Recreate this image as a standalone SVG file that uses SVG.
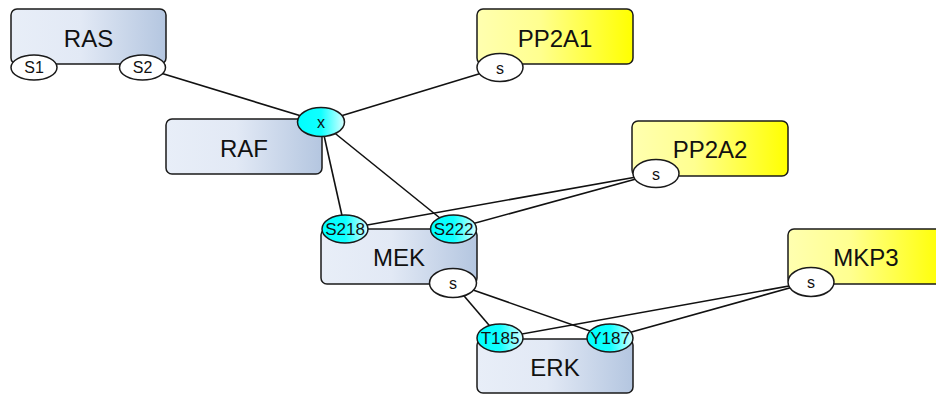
<svg xmlns="http://www.w3.org/2000/svg" width="936" height="394" viewBox="0 0 936 394">
  <defs>
    <linearGradient id="gBlue" x1="0" y1="0" x2="1" y2="0">
      <stop offset="0" stop-color="#e8eef8"/>
      <stop offset="0.45" stop-color="#e2e9f5"/>
      <stop offset="1" stop-color="#b4c6e0"/>
    </linearGradient>
    <linearGradient id="gYellow" x1="0" y1="0" x2="1" y2="0">
      <stop offset="0" stop-color="#ffffb0"/>
      <stop offset="0.4" stop-color="#ffff90"/>
      <stop offset="1" stop-color="#ffff00"/>
    </linearGradient>
    <linearGradient id="gCyan" x1="0" y1="0" x2="1" y2="0">
      <stop offset="0" stop-color="#00ffff"/>
      <stop offset="0.5" stop-color="#10ffff"/>
      <stop offset="1" stop-color="#d8ffff"/>
    </linearGradient>
  </defs>
  <style>
    .box { stroke: #1a1a1a; stroke-width: 1.5; }
    .blue { fill: url(#gBlue); }
    .yellow { fill: url(#gYellow); }
    .site { stroke: #1a1a1a; stroke-width: 1.5; fill: #ffffff; }
    .site.on { fill: url(#gCyan); }
    .edge { stroke: #111111; stroke-width: 1.6; fill: none; }
    .name { font-family: "Liberation Sans", Arial, sans-serif; font-size: 24px; text-anchor: middle; fill: #111111; }
    .lbl { font-family: "Liberation Sans", Arial, sans-serif; font-size: 16px; text-anchor: middle; fill: #111111; }
    .lbl.cap { font-size: 17px; }
  </style>

  <!-- interactions between sites -->
  <g id="edges">
    <line class="edge" x1="142.5" y1="67.5" x2="321" y2="122"/>
    <line class="edge" x1="500" y1="67.5" x2="321" y2="122"/>
    <line class="edge" x1="321" y1="122" x2="345" y2="229"/>
    <line class="edge" x1="321" y1="122" x2="453.5" y2="229"/>
    <line class="edge" x1="656" y1="173.5" x2="345" y2="229"/>
    <line class="edge" x1="656" y1="173.5" x2="453.5" y2="229"/>
    <line class="edge" x1="453" y1="283" x2="500" y2="338"/>
    <line class="edge" x1="453" y1="283" x2="610" y2="338"/>
    <line class="edge" x1="811" y1="282" x2="500" y2="338"/>
    <line class="edge" x1="811" y1="282" x2="610" y2="338"/>
  </g>

  <g id="RAS">
    <rect class="box blue" x="11" y="9" width="155" height="55" rx="6"/>
    <text class="name" x="88.5" y="46.5">RAS</text>
    <ellipse class="site" cx="34" cy="67.5" rx="23" ry="12.5"/>
    <text class="lbl" x="34" y="73">S1</text>
    <ellipse class="site" cx="142.5" cy="67.5" rx="23" ry="12.5"/>
    <text class="lbl" x="142.5" y="73">S2</text>
  </g>

  <g id="RAF">
    <rect class="box blue" x="166" y="119" width="156" height="55" rx="6"/>
    <text class="name" x="244" y="157">RAF</text>
    <ellipse class="site on" cx="321" cy="122" rx="23.5" ry="14.5"/>
    <text class="lbl" x="321" y="128">x</text>
  </g>

  <g id="PP2A1">
    <rect class="box yellow" x="477" y="9" width="156" height="55" rx="6"/>
    <text class="name" x="555" y="46.5">PP2A1</text>
    <ellipse class="site" cx="500" cy="67.5" rx="23" ry="14"/>
    <text class="lbl" x="500" y="73.5">s</text>
  </g>

  <g id="PP2A2">
    <rect class="box yellow" x="632" y="121" width="156" height="55" rx="6"/>
    <text class="name" x="710" y="157.5">PP2A2</text>
    <ellipse class="site" cx="656" cy="173.5" rx="23" ry="14"/>
    <text class="lbl" x="656" y="179.5">s</text>
  </g>

  <g id="MEK">
    <rect class="box blue" x="321" y="229" width="156" height="55" rx="6"/>
    <text class="name" x="399" y="266">MEK</text>
    <ellipse class="site on" cx="345" cy="229" rx="23" ry="14"/>
    <text class="lbl cap" x="345" y="235">S218</text>
    <ellipse class="site on" cx="453.5" cy="229" rx="23" ry="14"/>
    <text class="lbl cap" x="453.5" y="235">S222</text>
    <ellipse class="site" cx="453" cy="283" rx="23.5" ry="14.5"/>
    <text class="lbl" x="453" y="289">s</text>
  </g>

  <g id="MKP3">
    <rect class="box yellow" x="788" y="229" width="156" height="55" rx="6"/>
    <text class="name" x="866" y="266">MKP3</text>
    <ellipse class="site" cx="811" cy="282" rx="23" ry="14.5"/>
    <text class="lbl" x="811" y="288">s</text>
  </g>

  <g id="ERK">
    <rect class="box blue" x="477" y="339" width="156" height="54" rx="6"/>
    <text class="name" x="555" y="376">ERK</text>
    <ellipse class="site on" cx="500" cy="338" rx="23" ry="14"/>
    <text class="lbl cap" x="500" y="344">T185</text>
    <ellipse class="site on" cx="610" cy="338" rx="23" ry="14"/>
    <text class="lbl cap" x="610" y="344">Y187</text>
  </g>
</svg>
